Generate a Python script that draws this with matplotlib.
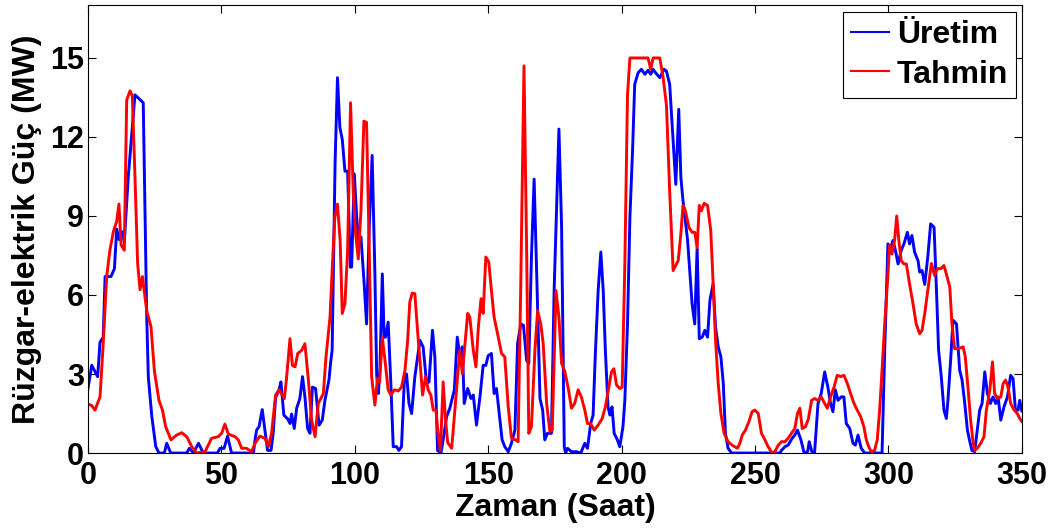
import matplotlib
matplotlib.use('Agg')
import matplotlib.pyplot as plt

# Üretim (blue) - saat / MW
uretim_saat = [0, 1.4, 3.6, 4.5, 5.7, 6.4, 8.6, 9.9, 10.75, 11.7, 12.9, 13.6, 15.1, 17.6, 20.7, 22.0, 22.6, 23.9, 25.4, 26.6,
               28.6, 29.5, 31, 37, 38, 39.5, 41.4, 43.2, 48.5, 49.5, 51.0, 52.3, 53.8, 62.0, 62.6, 63.2, 64.1, 65.3, 66.3,
               67.3, 68.6, 69.4, 70.3, 71.6, 72.3, 73.4, 74.8, 75.7, 76.3, 77.3, 78.2, 79.4, 80.4, 81.3, 82.3, 83.2, 84.1,
               85.3, 86.6, 87.8, 88.8, 90.3, 91.0, 91.5, 92.6, 93.5, 94.4, 95.3, 96.3, 97.3, 98.3, 98.8, 99.8, 100.7, 101.5,
               102.3, 103.5, 104.4, 105.4, 106.5, 107.5, 108.2, 108.8, 109.4, 110.3, 111.0, 111.5, 112.5, 113.5, 114.4,
               115.7, 116.5, 117.5, 118.5, 119.4, 120.3, 121.3, 122.5, 124.4, 125.6, 126.9, 127.8, 129.1, 130.0, 131.0,
               132.3, 133.1, 134.4, 135.6, 137.3, 138.4, 139.4, 140.3, 141.0, 142.3, 143.5, 144.4, 145.6, 146.9, 148.1,
               149.1, 150.0, 151.2, 152.2, 153.1, 154.4, 155.2, 156.2, 157.5, 158.7, 160.0, 161.0, 162.2, 163.2, 164.4,
               165.2, 166.2, 167.2, 168.1, 169.4, 170.4, 171.2, 172.2, 173.7, 174.7, 176.5, 177.5, 178.5, 179.0, 179.7,
               181.2, 183.1, 184.7, 186.2, 187.2, 188.4, 189.3, 190.2, 191.2, 192.2, 193.1, 193.9, 194.9, 195.6, 196.4,
               197.2, 198.4, 199.3, 200.5, 201.2, 202.2, 203.1, 204.1, 204.9, 206.2, 207.4, 208.7, 209.9, 210.9, 211.8,
               212.7, 214.3, 215.9, 216.8, 218.0, 218.9, 220.3, 221.4, 222.2, 223.0, 224.7, 225.6, 226.4, 227.4, 228.3,
               229.1, 230.2, 231.2, 232.2, 233.1, 234.3, 235.2, 236.2, 237.2, 238.1, 238.9, 239.9, 241.2, 259.3, 259.9,
               261.2, 262.4, 263.9, 264.9, 265.9, 267.2, 268.4, 269.7, 270.3, 271.3, 272.3, 273.6, 274.8, 276.1, 277.3,
               278.3, 279.2, 280.1, 281.1, 282.3, 283.3, 284.2, 285.5, 286.7, 287.6, 288.6, 289.8, 291.1, 297.6, 298.6,
               299.8, 300.8, 301.7, 302.6, 303.6, 304.8, 305.8, 307.1, 307.9, 308.8, 309.8, 311.1, 311.7, 312.6, 313.6,
               314.8, 315.8, 317.1, 318.0, 318.8, 319.8, 320.8, 321.7, 322.3, 323.3, 324.2, 325.5, 326.7, 327.6, 328.6,
               329.6, 330.5, 331.3, 332.3, 333.3, 334.2, 335.1, 336.1, 337.1, 338.2, 339.2, 340.2, 341.1, 342.1, 343.3,
               344.6, 345.8, 346.7, 347.6, 348.6, 349.2, 350]
uretim = [2.45, 3.33, 2.9, 4.2, 4.4, 6.7, 6.7, 7.0, 8.5, 8.1, 8.4, 8.0, 10.5, 13.6, 13.3, 5.2, 2.9, 1.4, 0.24, 0,
          0, 0.37, 0, 0, 0.18, 0, 0.37, 0, 0, 0.18, 0.18, 0.64, 0, 0, 0.5, 0.87, 1.0, 1.65, 0.87,
          0.1, 0.1, 0.75, 2.1, 2.4, 2.7, 1.44, 1.3, 1.12, 1.48, 0.93, 1.7, 2.07, 2.9, 2.13, 0.93, 0.75, 2.5,
          2.45, 1.06, 1.25, 2.0, 2.77, 3.5, 3.9, 11.0, 14.25, 12.36, 11.9, 10.7, 10.7, 7.06, 7.06, 10.6, 8.95, 7.94,
          8.2, 6.43, 4.9, 8.57, 11.3, 6.93, 2.95, 2.26, 3.14, 6.8, 4.4, 4.4, 4.97, 2.64, 0.24,
          0.24, 0.1, 0.24, 2.64, 3.0, 1.88, 1.5, 2.9, 4.28, 4.03, 2.64, 2.7, 4.66, 3.65, 0.1,
          0, 0.5, 1.38, 1.7, 2.4, 4.4, 3.65, 4.03, 1.88, 2.45, 2.07, 2.2, 1.06, 2.13, 3.33,
          3.33, 3.7, 3.78, 2.26, 2.45, 1.25, 0.5, 0.24, 0.05, 0.37, 0.87, 4.15, 4.9, 4.85, 3.52,
          3.4, 7.44, 10.4, 7.06, 2.07, 1.63, 0.5, 0.75, 0.75, 6.17, 12.3, 8.57, 0.24, 0, 0.18,
          0.05, 0.05, 0, 0.37, 0.18, 1.12, 1.44, 3.9, 6.17, 7.63, 6.17, 3.9, 1.75, 1.44, 1.75,
          0.75, 0.5, 0.24, 1.0, 2.0, 4.9, 8.95, 11.5, 14.0, 14.44, 14.57, 14.38, 14.53, 14.38, 14.57,
          14.44, 14.25, 14.57, 14.5, 14.0, 12.5, 10.2, 13.05, 10.47, 9.58, 8.1, 6.8, 5.67, 4.9, 7.8,
          4.34, 4.4, 4.66, 4.4, 5.8, 6.43, 4.78, 4.03, 3.65, 2.64, 0.75, 0.18, 0, 0, 0.1,
          0.24, 0.3, 0.56, 0.68, 0.87, 0.5, 0, 0.05, 0.43, 0.05, 0, 1.88, 2.26, 3.08, 2.5,
          1.88, 1.57, 2.4, 2.0, 2.13, 2.13, 1.12, 0.93, 0.37, 0.3, 0.68, 0.18, 0, 0, 3.9,
          7.94, 7.8, 8.07, 7.7, 7.18, 7.7, 7.94, 8.38, 7.94, 8.26, 7.63, 7.3, 6.87, 6.93, 6.4,
          7.5, 8.7, 8.57, 6.17, 3.9, 2.9, 1.63, 1.31, 2.0, 3.52, 5.04, 4.9, 3.14, 2.77, 1.88,
          0.87, 0.43, 0.1, 0.05, 0.87, 1.63, 1.88, 3.08, 2.26, 1.88, 2.13, 1.88, 2.13, 1.25, 1.75,
          2.13, 2.95, 2.83, 1.63, 1.63, 2.0, 1.6]

# Tahmin (red) - saat / MW
tahmin_saat = [0.4, 1.4, 2.6, 4.5, 5.7, 7.0, 8.2, 9.5, 10.75, 11.6, 12.4, 13.6, 14.5, 15.75, 16.6, 17.6, 18.6, 19.5, 20.4,
               22.0, 23.6, 24.9, 26.6, 27.9, 29.1, 31.1, 33.2, 35.1, 37.0, 38.9, 40.7, 43.9, 46.3, 48.8, 50.1, 51.3, 52.6,
               55.1, 56.3, 57.6, 59.4, 61.3, 62.6, 64.4, 66.3, 67.6, 68.8, 70.3, 71.6, 73.6, 74.4, 75.7, 76.6, 77.6, 78.6,
               80.1, 81.3, 82.6, 83.8, 85.1, 86.3, 88.2, 89.2, 90.7, 91.5, 92.5, 93.5, 94.5, 95.3, 96.3, 97.3, 98.4, 99.4,
               100.3, 101.3, 102.3, 103.4, 104.4, 105.3, 106.3, 107.5, 108.5, 109.3, 110.3, 111.3, 112.5, 113.5, 114.8,
               116.3, 117.5, 118.8, 119.8, 120.6, 121.5, 122.5, 123.5, 124.4, 125.4, 126.5, 127.5, 128.5, 129.4, 130.4,
               131.3, 132.1, 133.1, 134.0, 134.8, 136.3, 137.5, 138.8, 139.4, 140.3, 141.3, 142.3, 143.1, 144.4, 145.4,
               146.3, 147.3, 148.1, 149.1, 150.2, 151.2, 152.2, 153.5, 155.0, 156.2, 157.5, 158.7, 160.2, 161.2, 162.2,
               163.4, 164.4, 165.2, 166.2, 167.5, 168.5, 169.7, 170.6, 171.9, 173.1, 174.0, 175.4, 176.5, 177.5, 178.7,
               180.1, 181.2, 182.4, 183.7, 184.9, 186.2, 187.2, 188.4, 189.7, 191.2, 192.7, 193.9, 195.2, 196.2, 197.1,
               198.1, 199.3, 200.2, 201.2, 202.2, 203.1, 209.9, 210.9, 211.8, 214.3, 215.5, 216.8, 218.0, 219.3, 221.2,
               222.2, 223.0, 223.9, 225.2, 226.4, 227.4, 228.3, 229.1, 229.9, 230.9, 232.2, 233.4, 234.3, 235.2, 236.2,
               237.2, 238.4, 239.9, 241.4, 243.4, 244.3, 245.2, 246.4, 247.7, 248.9, 249.9, 251.2, 252.4, 253.7, 254.9,
               256.4, 257.4, 258.7, 259.9, 261.2, 262.4, 263.7, 264.9, 265.9, 266.8, 267.7, 268.9, 270.0, 271.2, 272.3,
               273.6, 274.8, 276.1, 277.1, 278.3, 279.6, 280.8, 282.1, 283.3, 284.6, 285.8, 287.1, 288.3, 289.6, 290.8,
               291.7, 292.6, 293.6, 294.8, 295.8, 296.7, 297.6, 298.6, 299.6, 300.4, 301.3, 302.3, 303.1, 303.9, 304.8,
               305.8, 306.7, 307.9, 309.2, 310.4, 311.7, 312.6, 313.6, 314.8, 316.1, 317.3, 318.3, 319.6, 320.8, 321.7,
               323.0, 323.8, 324.8, 326.1, 328.0, 328.8, 329.8, 330.8, 331.7, 332.3, 333.3, 334.6, 335.8, 336.7, 338.0,
               339.0, 339.8, 340.8, 342.1, 343.0, 343.9, 344.8, 345.8, 347.1, 348.3, 349.2, 350]
tahmin = [1.84, 1.8, 1.63, 2.13, 4.15, 6.7, 7.7, 8.4, 8.8, 9.45, 7.9, 7.7, 13.4, 13.75, 13.56, 10.5, 7.2, 6.2, 6.7,
          5.4, 4.8, 3.1, 2.0, 1.63, 1.0, 0.5, 0.68, 0.77, 0.62, 0.24, 0, 0.05, 0.56, 0.62, 0.75, 1.1, 0.72,
          0.62, 0.5, 0.18, 0.18, 0.05, 0.37, 0.64, 0.56, 0.24, 0.75, 2.2, 2.4, 2.07, 2.83, 4.34, 3.33, 3.27, 3.78,
          3.9, 4.15, 2.77, 1.25, 0.62, 1.88, 2.26, 3.65, 5.16, 6.93, 8.95, 9.45, 8.07, 5.3, 5.67, 7.7, 13.3, 9.96,
          8.32, 7.37, 9.2, 12.6, 12.55, 8.2, 2.9, 1.82, 2.83, 2.7, 4.4, 3.52, 2.4, 2.2, 2.4,
          2.36, 2.5, 3.14, 4.28, 5.73, 6.07, 6.05, 4.66, 3.52, 2.2, 2.9, 2.4, 2.2, 1.63, 1.63,
          0.62, 0.1, 2.7, 1.25, 0.4, 0.18, 1.63, 3.27, 3.9, 3.0, 4.15, 5.3, 5.16, 3.9, 3.27,
          4.78, 5.86, 5.3, 7.44, 7.25, 6.17, 5.16, 4.53, 3.78, 3.65, 1.75, 0.56, 0.5, 0.43, 6.43,
          14.7, 7.7, 0.75, 1.0, 3.9, 5.4, 4.9, 4.15, 1.88, 0.81, 0.87, 6.17, 5.16, 3.4, 3.1,
          2.4, 1.7, 1.88, 2.4, 2.13, 1.63, 1.12, 1.12, 0.87, 1.06, 1.31, 1.75, 2.5, 3.08, 3.2,
          2.58, 2.45, 2.5, 7.18, 13.6, 15, 15, 14.57, 15, 15, 14.3, 13.2, 9.96, 6.93, 7.3,
          8.32, 9.4, 9.2, 8.57, 8.38, 8.38, 7.8, 9.4, 9.2, 9.48, 9.4, 8.45, 6.43, 4.28, 2.64,
          1.5, 0.75, 0.43, 0.3, 0.18, 0.37, 0.68, 0.87, 1.19, 1.57, 1.63, 1.5, 0.75, 0.5, 0.24,
          0, 0.05, 0.3, 0.43, 0.43, 0.56, 0.75, 0.93, 1.5, 1.7, 0.93, 1.0, 1.3, 2.0, 2.07,
          2.0, 2.13, 1.88, 1.7, 2.13, 2.5, 2.95, 2.9, 2.95, 2.64, 2.26, 1.88, 1.63, 1.38, 1.0,
          0.5, 0.24, 0.05, 0.1, 0.5, 1.63, 3.14, 4.9, 6.43, 7.88, 7.56, 8.07, 9.0, 8.07, 7.3,
          7.18, 7.18, 6.43, 5.67, 4.9, 4.53, 4.66, 5.3, 6.2, 7.2, 6.74, 7.0, 7.0, 7.12, 6.8,
          6.3, 4.9, 3.96, 3.96, 4.03, 3.65, 2.5, 1.25, 0.43, 0.1, 0.18, 0.37, 0.62, 1.63, 2.4,
          3.46, 2.26, 2.07, 2.13, 2.64, 2.77, 2.5, 1.88, 1.63, 1.5, 1.31, 1.2]

x_ticks = [0, 50, 100, 150, 200, 250, 300, 350]
y_ticks = [0, 3, 6, 9, 12, 15]

plt.rcParams['font.family'] = ['Liberation Sans', 'DejaVu Sans']
plt.rcParams['font.weight'] = 'bold'

fig = plt.figure(figsize=(10.54, 5.28), dpi=100)
ax = fig.add_axes([0.0835, 0.142, 0.886, 0.848])

ax.plot(uretim_saat, uretim, color='#0000ff', lw=2.1, label='Üretim')
ax.plot(tahmin_saat, tahmin, color='#ff0000', lw=2.1, label='Tahmin')

ax.set_xlim(0, 350)
ax.set_ylim(0, 17)
ax.set_xticks(x_ticks)
ax.set_yticks(y_ticks)
ax.tick_params(direction='in', length=6, width=0.8, top=True, right=True, labelsize=22)
ax.tick_params(axis='x', pad=6)
ax.tick_params(axis='y', pad=3)
for lbl in ax.get_xticklabels() + ax.get_yticklabels():
    lbl.set_fontweight('bold')

ax.set_xlabel('Zaman (Saat)', fontsize=23, fontweight='bold', labelpad=1)
ax.set_ylabel('Rüzgar-elektrik Güç (MW)', fontsize=23, fontweight='bold', labelpad=6)

leg = ax.legend(loc='upper right', bbox_to_anchor=(0.994, 0.985), borderaxespad=0,
                fontsize=23, handlelength=1.2, handletextpad=0.25, borderpad=0.25,
                labelspacing=0.3, fancybox=False, framealpha=1)
leg.get_frame().set_edgecolor('black')
leg.get_frame().set_linewidth(0.8)
for t in leg.get_texts():
    t.set_fontweight('bold')
for l in leg.get_lines():
    l.set_linewidth(1.5)

fig.savefig('out.png', dpi=100)
